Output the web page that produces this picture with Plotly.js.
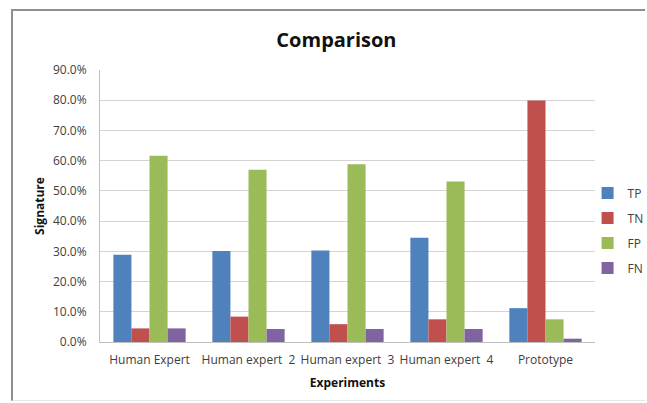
<!DOCTYPE html>
<html>
<head>
<meta charset="utf-8">
<script src="https://cdn.plot.ly/plotly-3.0.1.min.js"></script>
<style>
html,body{margin:0;padding:0;background:#fff;}
#wrap{position:relative;width:647px;height:403px;overflow:hidden;}
#frame{position:absolute;left:11px;top:9px;width:634px;height:392px;border-left:2px solid #8f8f8f;border-top:2px solid #8f8f8f;border-bottom:1px solid #e6e6e6;box-sizing:border-box;pointer-events:none;}
#chart{position:absolute;left:0;top:0;width:647px;height:403px;}
</style>
</head>
<body>
<div id="wrap">
<div id="chart"></div>
<div id="frame"></div>
</div>
<script>
const categories = ["Human Expert", "Human expert  2", "Human expert  3", "Human expert  4", "Prototype"];
const tp = [0.289, 0.301, 0.303, 0.345, 0.112];
const tn = [0.045, 0.084, 0.059, 0.075, 0.799];
const fp = [0.616, 0.570, 0.588, 0.531, 0.075];
const fn = [0.045, 0.043, 0.043, 0.043, 0.011];
const seriesNames = ["TP", "TN", "FP", "FN"];
const seriesColors = ["#4F81BD", "#C0504D", "#9BBB59", "#8064A2"];
const yTickVals = [0, 0.1, 0.2, 0.3, 0.4, 0.5, 0.6, 0.7, 0.8, 0.9];

const allValues = [tp, tn, fp, fn];
const traces = allValues.map((vals, i) => ({
  type: 'bar',
  name: seriesNames[i],
  x: categories,
  y: vals,
  legendgroup: seriesNames[i],
  marker: {color: seriesColors[i], line: {width: 0}},
  hoverinfo: 'skip'
}));

const fontFam = "'Open Sans', 'DejaVu Sans', sans-serif";
const layout = {
  width: 647,
  height: 403,
  margin: {l: 100, r: 52, t: 70, b: 61, autoexpand: false},
  paper_bgcolor: '#ffffff',
  plot_bgcolor: '#ffffff',
  font: {family: fontFam, size: 12, color: '#404040'},
  title: {
    text: '<b>Comparison</b>',
    font: {family: fontFam, size: 20, color: '#111111'},
    xref: 'container', x: 0.52, xanchor: 'center',
    yref: 'container', y: 0.90, yanchor: 'middle'
  },
  barmode: 'group',
  bargap: 0.27,
  bargroupgap: 0,
  xaxis: {
    type: 'category',
    showline: true, linecolor: '#bfbfbf', linewidth: 1,
    ticks: '', ticklabelstandoff: 7,
    tickfont: {size: 12, color: '#404040'},
    title: {text: '<b>Experiments</b>', font: {size: 12, color: '#111111'}, standoff: 11},
    showgrid: false, zeroline: false,
    automargin: false
  },
  yaxis: {
    range: [0, 0.9],
    tickvals: yTickVals,
    tickformat: '.1%',
    showline: true, linecolor: '#bfbfbf', linewidth: 1,
    gridcolor: '#d4d4d4', gridwidth: 1,
    zeroline: false,
    ticks: '', ticklabelstandoff: 10,
    tickfont: {size: 12, color: '#404040'},
    title: {text: '<b>Signature</b>', font: {size: 12, color: '#111111'}, standoff: 5},
    automargin: false
  },
  legend: {
    x: 0.985, xanchor: 'left',
    y: 0.41, yanchor: 'middle',
    font: {size: 12, color: '#404040'},
    tracegroupgap: 6,
    itemwidth: 30,
    bgcolor: 'rgba(0,0,0,0)'
  },
  showlegend: true
};

Plotly.newPlot('chart', traces, layout, {staticPlot: true, displayModeBar: false});
</script>
</body>
</html>
